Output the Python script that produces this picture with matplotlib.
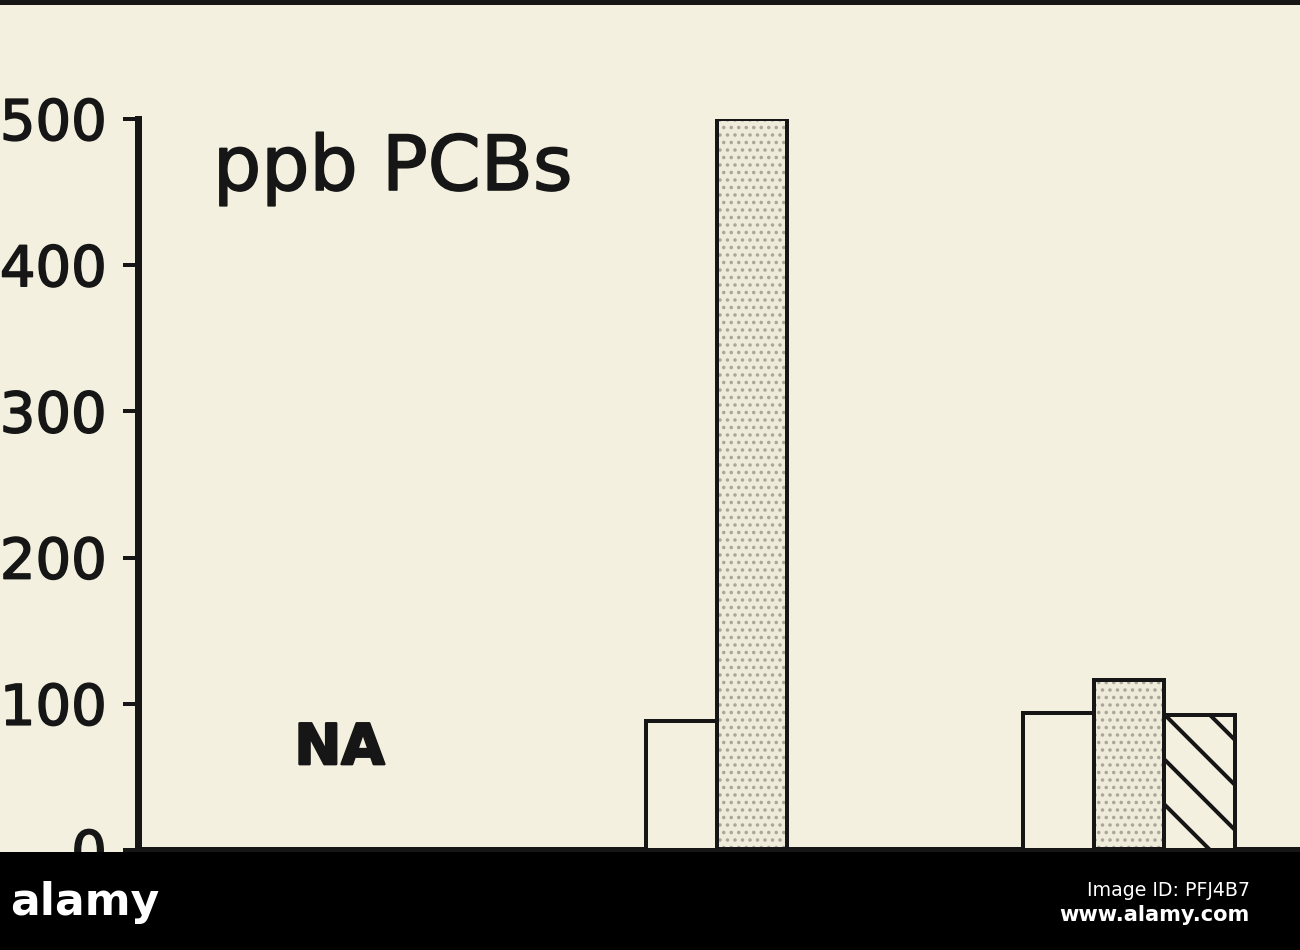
"""
ppb PCBs 막대 그래프 재현
- 그룹 1: NA
- 그룹 2, 3: 흰색 / 점묘 / 빗금 막대
"""

import matplotlib
matplotlib.use('Agg')
import matplotlib.pyplot as plt
import matplotlib.patheffects as pe
from matplotlib.patches import Rectangle
import numpy as np

# ──────────────────────────────────────────────
# 데이터
# ──────────────────────────────────────────────
groups = [0, 1, 2]
plain_vals = [np.nan, 88, 94]
stipple_vals = [np.nan, 500, 116]
hatched_vals = [np.nan, np.nan, 92]
na_label = 'NA'
y_ticks = [0, 100, 200, 300, 400, 500]
title = 'ppb PCBs'

# ──────────────────────────────────────────────
# 스타일 (dpi 270: 빗금 간격을 넓게 하기 위해)
# ──────────────────────────────────────────────
DPI = 270
PX = 72.0 / DPI          # 1 px in points
BG = '#f3f0df'
INK = '#161616'

plt.rcParams['font.family'] = ['DejaVu Sans']
plt.rcParams['hatch.linewidth'] = 4 * PX

# 글자 획을 조금 굵게
thick = [pe.withStroke(linewidth=1.6 * PX, foreground=INK)]
thick_na = [pe.withStroke(linewidth=2.5 * PX, foreground=INK)]


def fy(px_from_top):
    """위에서부터의 픽셀 -> figure 좌표"""
    return 1 - px_from_top / 950


fig = plt.figure(figsize=(1300 / DPI, 950 / DPI), dpi=DPI, facecolor=BG)
ax = fig.add_axes([138 / 1300, 100 / 950, 1 - 138 / 1300, 731 / 950])
ax.set_facecolor(BG)

x = np.array(groups, dtype=float)
width = 0.188

# 흰색 막대
ax.bar(x - width, plain_vals, width, facecolor=BG, edgecolor=INK,
       linewidth=4 * PX, zorder=3)

# 점묘 막대: 무늬 먼저, 테두리 나중
with plt.rc_context({'hatch.linewidth': 2.0 * PX}):
    ax.bar(x, stipple_vals, width, facecolor='#eeebda',
           edgecolor='#aaa79a', hatch='.' * 6, linewidth=0, zorder=2)
ax.bar(x, stipple_vals, width, fill=False, edgecolor=INK,
       linewidth=4 * PX, zorder=3)

# 빗금 막대
ax.bar(x + width, hatched_vals, width, facecolor=BG, edgecolor=INK,
       hatch='\\\\', linewidth=4 * PX, zorder=3)

ax.text(groups[0] - width / 2, 69, na_label, ha='center', va='center',
        fontsize=56 * PX, fontweight='bold', color=INK, path_effects=thick_na)

fig.text(213 / 1300, fy(190), title, ha='left', va='baseline',
         fontsize=76 * PX, color=INK, path_effects=thick)

ax.set_xlim(-0.6286, 2.4536)
ax.set_ylim(0, 500)
ax.set_yticks(y_ticks)
ax.set_yticklabels([str(t) for t in y_ticks], fontsize=56 * PX, color=INK)
for lab in ax.get_yticklabels():
    lab.set_path_effects(thick)
ax.tick_params(axis='y', direction='out', length=15 * PX, width=4 * PX,
               pad=16 * PX, colors=INK)
ax.set_xticks([])

ax.spines['top'].set_visible(False)
ax.spines['right'].set_visible(False)
for side in ['left', 'bottom']:
    ax.spines[side].set_linewidth(7 * PX)
    ax.spines[side].set_color(INK)

# 위쪽 가장자리 선과 아래 검은 띠
fig.add_artist(Rectangle((0, fy(5)), 1, 5 / 950, transform=fig.transFigure,
                         facecolor=INK, edgecolor='none', zorder=5))
fig.add_artist(Rectangle((0, 0), 1, 98 / 950, transform=fig.transFigure,
                         facecolor='black', edgecolor='none', zorder=5))
fig.text(10 / 1300, fy(903), 'alamy', color='white', fontsize=44 * PX,
         fontweight='bold', ha='left', va='center', zorder=6)
fig.text(1250 / 1300, fy(891), 'Image ID: PFJ4B7', color='white',
         fontsize=19 * PX, ha='right', va='center', zorder=6)
fig.text(1250 / 1300, fy(915), 'www.alamy.com', color='white',
         fontsize=21 * PX, fontweight='bold', ha='right', va='center', zorder=6)

fig.savefig('out.png', dpi=DPI, facecolor=BG)
plt.close(fig)
